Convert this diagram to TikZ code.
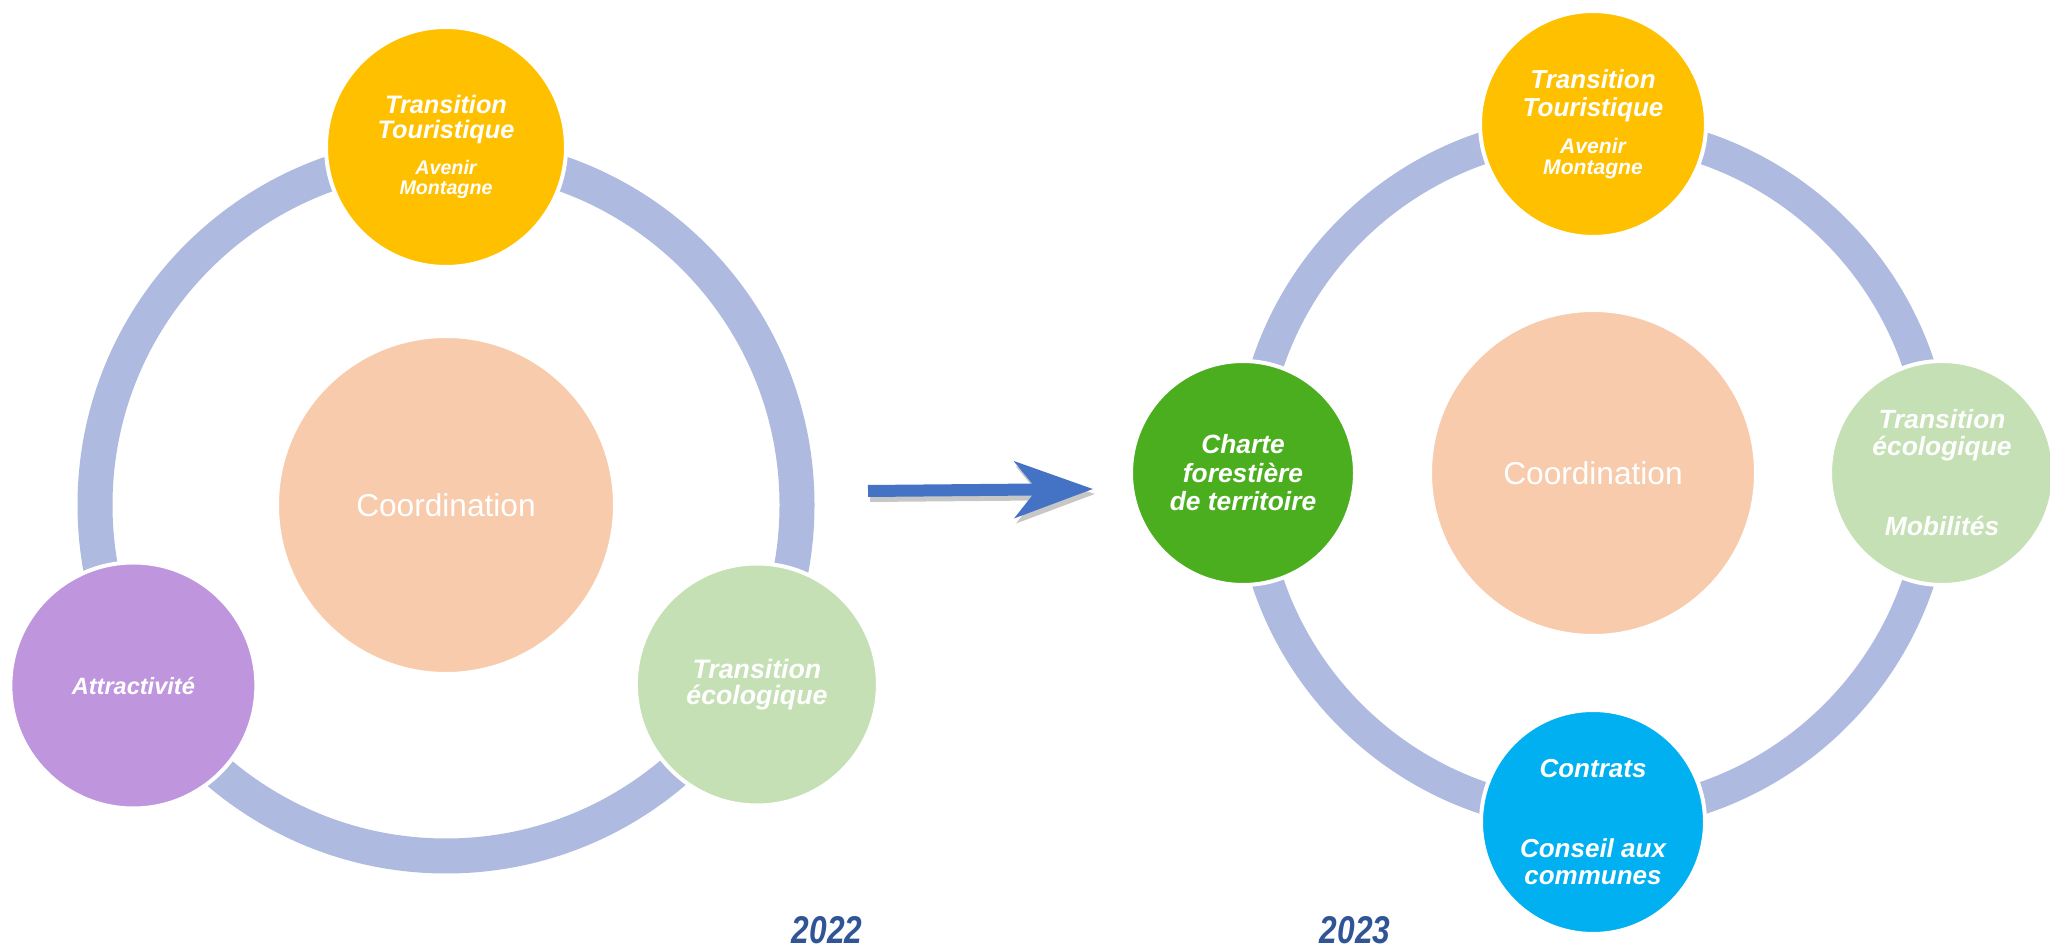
\documentclass[tikz,border=0pt]{standalone}
\usepackage{fontspec}
\setmainfont{Liberation Sans}
\newfontfamily\narrowfont[FakeStretch=0.82]{Liberation Sans}
\usepackage{xcolor}
\usetikzlibrary{calc}
\usetikzlibrary{arrows.meta}

\definecolor{ringblue}{HTML}{AEBADF}
\definecolor{peach}{HTML}{F7CBAC}
\definecolor{tyellow}{HTML}{FFC000}
\definecolor{tpurple}{HTML}{BF96DE}
\definecolor{tlgreen}{HTML}{C5E0B4}
\definecolor{tdgreen}{HTML}{4BAE1F}
\definecolor{tblue}{HTML}{00B0F0}
\definecolor{arrblue}{HTML}{4472C4}
\definecolor{yearblue}{HTML}{2F5597}

\newcommand{\bubfont}[2]{\bfseries\itshape\fontsize{#1}{#2}\selectfont}

\tikzset{
    ring/.style={draw=ringblue},
    core/.style={circle, fill=peach, draw=white, line width=0.02cm, inner sep=0pt, outer sep=0pt,
        text=white, font=\fontsize{9}{10}\selectfont},
    bubble/.style={circle, draw=white, line width=0.04cm, inner sep=0pt, outer sep=0pt,
        text=white, align=flush center, text width=1.7cm},
    yearlbl/.style={text=yearblue, inner sep=0pt, font=\narrowfont\bfseries\itshape\fontsize{11}{12}\selectfont}
}

\begin{document}
\begin{tikzpicture}[scale=1]
    \useasboundingbox (0,0) rectangle (20.5,9.47);

    % 2022 wheel
    \coordinate (c22) at (4.46,4.42);
    \draw[ring, line width=0.35cm] (c22) circle (3.51);
    \node[core, minimum size=3.36cm] (coord22) at (c22) {Coordination};
    \node[bubble, fill=tyellow, minimum size=2.4cm, font=\bubfont{7.2}{7.1}] (tour22) at ($ (c22) + (90:3.58) $)
        {Transition\\Touristique\par\vspace{4.5pt}%
         {\fontsize{5.6}{5.7}\selectfont Avenir\\Montagne\par}};
    \node[bubble, fill=tpurple, minimum size=2.46cm, font=\bubfont{6.7}{7}] (attr22) at ($ (c22) + (210:3.61) $)
        {Attractivité};
    \node[bubble, fill=tlgreen, minimum size=2.42cm, font=\bubfont{7.6}{7.4}] (eco22) at ($ (c22) + (330:3.59) $)
        {Transition\\écologique};

    % arrow 2022 -> 2023
    \coordinate (arrS) at (8.68,4.56);
    \coordinate (arrE) at (10.93,4.58);
    \draw[black!22, line width=0.12cm, -{Stealth[length=0.78cm, width=0.56cm, inset=0.22cm]}]
        ($ (arrS) + (0.02,-0.05) $) -- ($ (arrE) + (0.02,-0.05) $); % shadow
    \draw[arrblue, line width=0.12cm, -{Stealth[length=0.78cm, width=0.56cm, inset=0.22cm]}]
        (arrS) -- (arrE);

    % 2023 wheel
    \coordinate (c23) at (15.93,4.74);
    \draw[ring, line width=0.32cm] (c23) circle (3.43);
    \node[core, minimum size=3.24cm] (coord23) at (c23) {Coordination};
    \node[bubble, fill=tyellow, minimum size=2.26cm, font=\bubfont{7.4}{8}] (tour23) at ($ (c23) + (90:3.49) $)
        {Transition\\Touristique\par\vspace{4.5pt}%
         {\fontsize{6}{6}\selectfont Avenir\\Montagne\par}};
    \node[bubble, fill=tlgreen, minimum size=2.24cm, font=\bubfont{7.5}{7.6}] (eco23) at ($ (c23) + (0:3.49) $)
        {Transition\\écologique\\[2\baselineskip]Mobilités};
    \node[bubble, fill=tblue, minimum size=2.24cm, font=\bubfont{7.4}{7.6}] (contr23) at ($ (c23) + (270:3.49) $)
        {Contrats\\[2\baselineskip]Conseil aux\\communes};
    \node[bubble, fill=tdgreen, minimum size=2.24cm, font=\bubfont{7.5}{8.1}] (chart23) at ($ (c23) + (180:3.50) $)
        {Charte\\forestière\\de territoire};

    % years
    \node[yearlbl] (y22) at (8.27,0.17) {2022};
    \node[yearlbl] (y23) at (13.55,0.17) {2023};
\end{tikzpicture}
\end{document}
